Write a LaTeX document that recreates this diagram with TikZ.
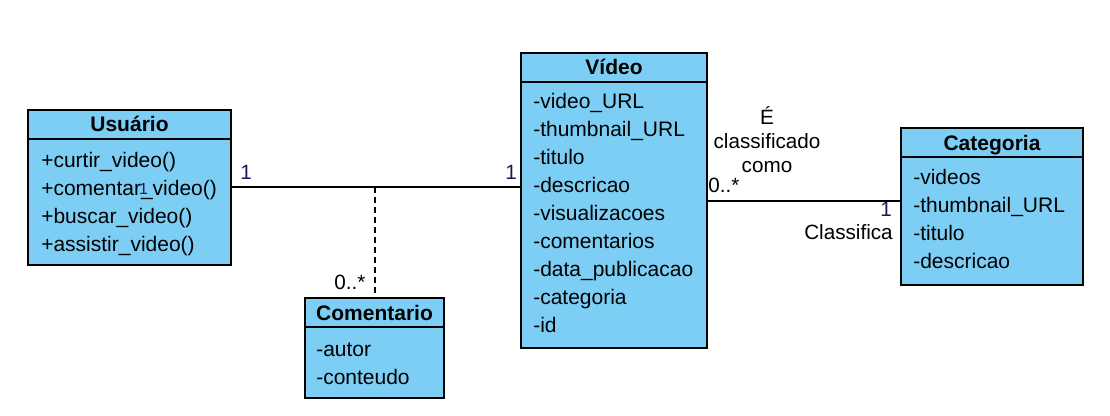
\documentclass[tikz,border=0pt]{standalone}
\usepackage{fontspec}
\setmainfont{Liberation Sans}
\definecolor{clsfill}{HTML}{7DCEF4}
\definecolor{multc}{HTML}{1A1A5A}
\begin{document}
\begin{tikzpicture}[x=0.75pt,y=-0.75pt,
  box/.style={draw=black, line width=1.5pt, fill=clsfill, anchor=north west, inner sep=0pt, outer sep=0pt},
  hd/.style={font=\fontsize{15.75}{18}\selectfont\bfseries, anchor=base, inner sep=0pt},
  attr/.style={font=\fontsize{15.75}{18}\selectfont, anchor=base west, inner sep=0pt},
  lbl/.style={font=\fontsize{15.5}{18}\selectfont, inner sep=0pt},
  assoc/.style={draw=black, line width=1.5pt},
  depend/.style={draw=black, line width=1.5pt, dash pattern=on 4.5pt off 3pt}]
\useasboundingbox (0,0) rectangle (1110,416);

% ---------- Usuario ----------
\node[box, minimum width=152.25pt, minimum height=21.75pt] (usrh) at (28,110) {};
\node[box, minimum width=152.25pt, minimum height=94.5pt] (usrb) at (28,139) {};
\node[hd] (usrt) at (129.5,131.5) {Usuário};
\node[attr] (u1) at (41,168) {+curtir\_video()};
\node[attr] (u2) at (41,196) {+comentar\_video()};
\node[attr] (u3) at (41,224) {+buscar\_video()};
\node[attr] (u4) at (41,252) {+assistir\_video()};

% ---------- Comentario ----------
\node[box, minimum width=104.25pt, minimum height=21.75pt] (comh) at (305,298) {};
\node[box, minimum width=104.25pt, minimum height=53.25pt] (comb) at (305,327) {};
\node[hd] (comt) at (374.5,320.5) {Comentario};
\node[attr] (c1) at (316,357) {-autor};
\node[attr] (c2) at (316,385) {-conteudo};

% ---------- Video ----------
\node[box, minimum width=139.5pt, minimum height=21.75pt] (vidh) at (521,53) {};
\node[box, minimum width=139.5pt, minimum height=199.5pt] (vidb) at (521,82) {};
\node[hd] (vidt) at (614,74.5) {Vídeo};
\node[attr] (v1) at (533,109) {-video\_URL};
\node[attr] (v2) at (533,137) {-thumbnail\_URL};
\node[attr] (v3) at (533,165) {-titulo};
\node[attr] (v4) at (533,193) {-descricao};
\node[attr] (v5) at (533,221) {-visualizacoes};
\node[attr] (v6) at (533,249) {-comentarios};
\node[attr] (v7) at (533,277) {-data\_publicacao};
\node[attr] (v8) at (533,305) {-categoria};
\node[attr] (v9) at (533,333) {-id};

% ---------- Categoria ----------
\node[box, minimum width=136.5pt, minimum height=21.75pt] (cath) at (901,128) {};
\node[box, minimum width=136.5pt, minimum height=96pt] (catb) at (901,157) {};
\node[hd] (catt) at (992,150.5) {Categoria};
\node[attr] (k1) at (913,185) {-videos};
\node[attr] (k2) at (913,213) {-thumbnail\_URL};
\node[attr] (k3) at (913,241) {-titulo};
\node[attr] (k4) at (913,269) {-descricao};

% ---------- connectors ----------
\coordinate (j1) at (375,187.5);
\coordinate (j2) at (804,201);
\draw[assoc] (usrb.east |- j1) -- (vidb.west |- j1);
\draw[depend] (j1) -- (comh.north -| j1);
\draw[assoc] (vidb.east |- j2) -- (catb.west |- j2);

% ---------- labels ----------
\node[lbl, anchor=base, text=multc] (m1) at (246,180) {1};
\node[lbl, anchor=base, text=multc] (m2) at (511,180) {1};
\node[lbl, anchor=base] (m3) at (350,290) {0..*};
\node[font=\fontsize{12}{14}\selectfont, inner sep=0pt, anchor=base, text=multc] (m4) at (143.5,195) {1};
\node[lbl, anchor=base west] (m5) at (708,192.5) {0..*};
\node[lbl, anchor=base east, text=multc] (m6) at (892,217) {1};
\node[lbl, anchor=base east] (m7) at (893,240) {Classifica};
\node[lbl, anchor=base] (r1) at (767,125) {É};
\node[lbl, anchor=base] (r2) at (767,148.5) {classificado};
\node[lbl, anchor=base] (r3) at (767,172.5) {como};
\end{tikzpicture}
\end{document}
